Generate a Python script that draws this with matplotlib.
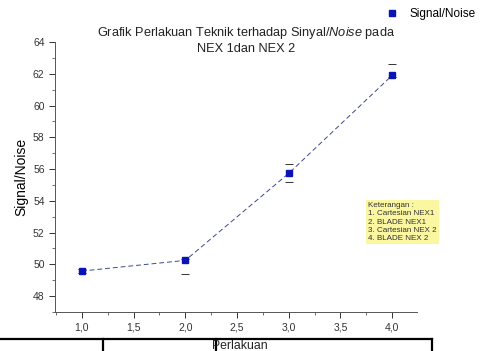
import matplotlib
matplotlib.use("Agg")
import matplotlib.pyplot as plt
from matplotlib.ticker import MultipleLocator, FuncFormatter
from matplotlib.lines import Line2D

plt.rcParams['font.family'] = ['Liberation Sans', 'DejaVu Sans']
plt.rcParams['mathtext.fontset'] = 'custom'
plt.rcParams['mathtext.it'] = 'Liberation Sans:italic'
plt.rcParams['mathtext.rm'] = 'Liberation Sans'

perlakuan = [1, 2, 3, 4]
signal_noise = [49.58, 50.25, 55.73, 61.9]
err_low = [0.1, 0.85, 0.55, 0.1]
err_high = [0.1, 0.1, 0.6, 0.7]
x_ticks = [1.0, 1.5, 2.0, 2.5, 3.0, 3.5, 4.0]
y_ticks = [48, 50, 52, 54, 56, 58, 60, 62, 64]
legend_lines = ["Keterangan :", "1. Cartesian NEX1", "2. BLADE NEX1",
                "3. Cartesian NEX 2", "4. BLADE NEX 2"]

fig = plt.figure(figsize=(4.92, 3.51), dpi=100)
ax = fig.add_axes([55/492, 1-312/351, (417-55)/492, (312-42)/351])
blue = '#0a14b4'

ax.plot(perlakuan, signal_noise, linestyle=(0, (5, 3)), color='#3a4a8a', lw=0.7, zorder=2)
ax.errorbar(perlakuan, signal_noise, yerr=[err_low, err_high], fmt='none',
            elinewidth=0, capsize=3, capthick=0.7, ecolor='#333333', zorder=1)
ax.plot(perlakuan, signal_noise, linestyle='none', marker='s', markersize=4.5,
        color=blue, zorder=3, label='Signal/Noise')

ax.set_xlim(0.74, 4.24)
ax.set_ylim(47, 64)
ax.set_xticks(x_ticks)
ax.set_yticks(y_ticks)
ax.xaxis.set_minor_locator(MultipleLocator(0.25))
ax.yaxis.set_minor_locator(MultipleLocator(1))
ax.xaxis.set_major_formatter(FuncFormatter(lambda v, p: f"{v:.1f}".replace('.', ',')))
ax.tick_params(axis='both', which='major', direction='out', length=4, width=0.7,
               labelsize=7.5, colors='#333333')
ax.tick_params(axis='both', which='minor', direction='out', length=2, width=0.6, colors='#555555')
for s in ['top', 'right']:
    ax.spines[s].set_visible(False)
for s in ['left', 'bottom']:
    ax.spines[s].set_linewidth(0.7)
    ax.spines[s].set_color('#555555')

ax.set_ylabel('Signal/Noise', fontsize=10, labelpad=3)

fig.text(246/492, 1-33/351, r"Grafik Perlakuan Teknik terhadap Sinyal/$\it{Noise}$ pada",
         ha='center', va='center', fontsize=9.2, color='#222222')
fig.text(246/492, 1-49/351, "NEX 1dan NEX 2", ha='center', va='center',
         fontsize=9.2, color='#222222')

# legend
fig.legend(handles=[Line2D([], [], linestyle='none', marker='s', markersize=4.5, color=blue)],
           labels=['Signal/Noise'], loc='center', bbox_to_anchor=(430/492, 1-14/351),
           frameon=False, fontsize=8.5, handletextpad=0.9, handlelength=1.2)

# note box
fig.text(368/492, 1-222/351, "\n".join(legend_lines), fontsize=5.8, va='center', ha='left',
         linespacing=1.25, color='#333333',
         bbox=dict(boxstyle='square,pad=0.3', fc='#fbf6a0', ec='none'))

# xlabel and table remnants
fig.text(240/492, 1-346/351, "Perlakuan", ha='center', va='center', fontsize=8.8, color='#222222')
lw = 1.6
fig.add_artist(Line2D([0, 432/492], [1-339/351]*2, color='black', lw=lw))
fig.add_artist(Line2D([103/492]*2, [1-339/351, 0], color='black', lw=lw))
fig.add_artist(Line2D([216/492]*2, [1-339/351, 0], color='black', lw=lw))
fig.add_artist(Line2D([432/492]*2, [1-339/351, 0], color='black', lw=lw))

fig.savefig('out.png', dpi=100)
